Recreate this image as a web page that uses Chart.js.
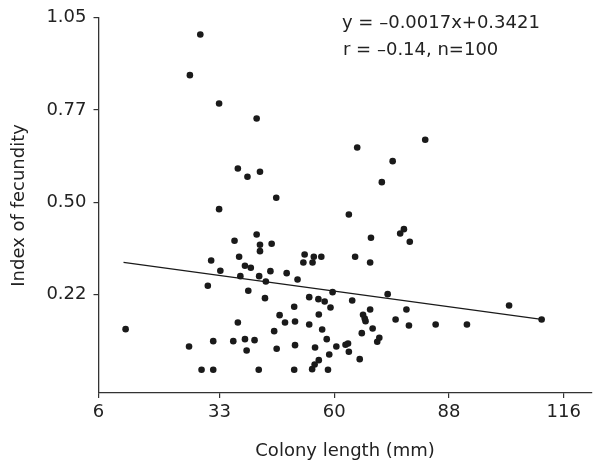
<!DOCTYPE html>
<html>
<head>
<meta charset="utf-8">
<script src="https://cdn.jsdelivr.net/npm/chart.js@4.4.1/dist/chart.umd.min.js"></script>
<style>
  html, body { margin: 0; padding: 0; background: #fff; }
  #wrap { width: 595px; height: 467px; }
</style>
</head>
<body>
<div id="wrap"><canvas id="fecundityChart" width="595" height="467"></canvas></div>
<script>
// Colony length vs index of fecundity

const colonyLength = [
  28.9, 26.4, 33.4, 42.4, 66.5, 75.0, 82.8, 37.9, 40.2, 43.2,
  47.1, 33.4, 64.5, 72.4, 42.4, 37.1, 43.2, 46.0, 43.2, 69.8,
  31.5, 38.2, 39.6, 41.0, 33.7, 53.9, 56.1, 57.9, 53.6, 55.8,
  66.0, 69.6, 38.5, 43.0, 45.7, 44.6, 49.6, 52.2, 30.7, 40.4,
  60.6, 73.8, 44.4, 55.0, 57.2, 58.7, 65.3, 60.1, 51.4, 69.6,
  77.7, 76.8, 79.1, 102.9, 78.3, 47.9, 49.2, 51.6, 57.3, 55.0,
  58.1, 67.9, 68.3, 68.5, 70.2, 67.6, 75.7, 37.9, 46.6, 26.2,
  32.0, 36.8, 39.6, 41.9, 40.0, 47.2, 51.6, 56.4, 59.2, 61.5,
  63.7, 64.3, 64.5, 71.8, 71.3, 67.1, 59.8, 57.3, 56.3, 55.7,
  59.5, 51.4, 42.9, 32.0, 29.2, 11.0, 78.9, 85.3, 92.8, 110.7
];

const fecundityIndex = [
  1.000, 0.878, 0.793, 0.748, 0.661, 0.620, 0.684, 0.598, 0.573, 0.588,
  0.510, 0.476, 0.460, 0.557, 0.400, 0.381, 0.369, 0.372, 0.350, 0.390,
  0.322, 0.333, 0.306, 0.300, 0.291, 0.340, 0.333, 0.333, 0.316, 0.316,
  0.333, 0.316, 0.275, 0.275, 0.290, 0.259, 0.284, 0.265, 0.246, 0.231,
  0.227, 0.221, 0.209, 0.212, 0.206, 0.199, 0.202, 0.181, 0.183, 0.175,
  0.416, 0.403, 0.378, 0.187, 0.175, 0.158, 0.136, 0.139, 0.160, 0.130,
  0.115, 0.159, 0.148, 0.140, 0.118, 0.104, 0.145, 0.136, 0.110, 0.064,
  0.080, 0.080, 0.086, 0.083, 0.052, 0.057, 0.068, 0.061, 0.086, 0.064,
  0.069, 0.073, 0.048, 0.090, 0.078, 0.026, 0.040, 0.023, 0.010, -0.004,
  -0.006, -0.006, -0.006, -0.006, -0.006, 0.116, 0.127, 0.130, 0.130, 0.145
];

// fitted line, ends as drawn in the figure
const fitX = [10.5, 110.7];
const fitY = [0.316, 0.145];

const xTickValues = [4.5, 33.5, 61, 88.5, 116];
const xTickLabels = ['6', '33', '60', '88', '116'];
const yTickValues = [0.22, 0.4967, 0.7733, 1.05];
const yTickLabels = ['0.22', '0.50', '0.77', '1.05'];

const annotationLines = ['y = \u20130.0017x+0.3421', 'r = \u20130.14, n=100'];

const ink = '#1a1a1a';
const axisColor = '#333';
const fontFamily = '"DejaVu Sans", "Liberation Sans", Arial, sans-serif';

const annotationPlugin = {
  id: 'fitAnnotation',
  afterDraw(chart) {
    const ctx = chart.ctx;
    ctx.save();
    ctx.fillStyle = '#222';
    ctx.font = '18px ' + fontFamily;
    ctx.textAlign = 'left';
    ctx.textBaseline = 'alphabetic';
    ctx.fillText(annotationLines[0], 342, 27.5);
    ctx.fillText(annotationLines[1], 343, 55);
    ctx.restore();
  }
};

const ctx = document.getElementById('fecundityChart');
new Chart(ctx, {
  type: 'scatter',
  data: {
    datasets: [
      {
        label: 'Colonies',
        data: colonyLength.map((x, i) => ({ x: x, y: fecundityIndex[i] })),
        backgroundColor: ink,
        borderWidth: 0,
        pointRadius: 3.3,
        pointHoverRadius: 3.3
      },
      {
        label: 'Fit',
        type: 'line',
        data: fitX.map((x, i) => ({ x: x, y: fitY[i] })),
        borderColor: ink,
        borderWidth: 1.2,
        pointRadius: 0,
        fill: false,
        showLine: true
      }
    ]
  },
  options: {
    responsive: false,
    animation: false,
    devicePixelRatio: 1,
    layout: { padding: { top: 16, right: 0, left: 0, bottom: 0 } },
    plugins: {
      legend: { display: false },
      tooltip: { enabled: false }
    },
    scales: {
      x: {
        type: 'linear',
        position: 'bottom',
        min: 4.5,
        max: 122.7,
        afterBuildTicks: (scale) => { scale.ticks = xTickValues.map(v => ({ value: v })); },
        afterFit: (scale) => {
          scale.height = 74;
          scale.paddingLeft = 0;
          scale.paddingRight = 0;
        },
        ticks: {
          color: '#222',
          padding: 4,
          maxRotation: 0,
          autoSkip: false,
          font: { family: fontFamily, size: 18 },
          callback: (value, index) => xTickLabels[index]
        },
        grid: { display: true, drawOnChartArea: false, drawTicks: true, tickLength: 5, color: axisColor, lineWidth: 1.2 },
        border: { display: true, color: axisColor, width: 1.3 },
        title: {
          display: true,
          text: 'Colony length (mm)',
          color: '#222',
          font: { family: fontFamily, size: 18 },
          padding: { top: 0, bottom: 5 }
        }
      },
      y: {
        type: 'linear',
        position: 'left',
        min: -0.0756,
        max: 1.05,
        afterBuildTicks: (scale) => { scale.ticks = yTickValues.map(v => ({ value: v })); },
        afterFit: (scale) => { scale.width = 98.5; },
        ticks: {
          color: '#222',
          padding: 7,
          autoSkip: false,
          font: { family: fontFamily, size: 18 },
          callback: (value, index) => yTickLabels[index]
        },
        grid: { display: true, drawOnChartArea: false, drawTicks: true, tickLength: 5, color: axisColor, lineWidth: 1.2 },
        border: { display: true, color: axisColor, width: 1.3 },
        title: {
          display: true,
          text: 'Index of fecundity',
          color: '#222',
          font: { family: fontFamily, size: 18 },
          padding: { top: 9, bottom: 0 }
        }
      }
    }
  },
  plugins: [annotationPlugin]
});
</script>
</body>
</html>
